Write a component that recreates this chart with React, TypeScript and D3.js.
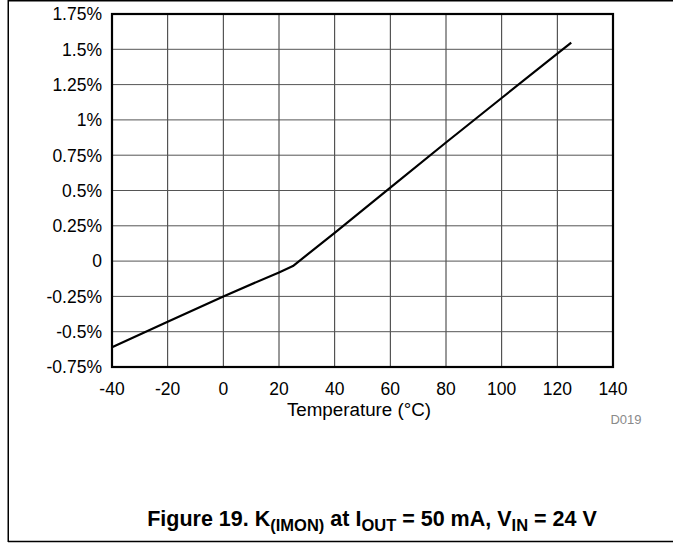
import React from "react";
import * as d3 from "d3";

// temperature (°C) vs K(IMON) error (%)
const temps = [-40, -20, 0, 20, 25, 40, 60, 80, 100, 120, 125];
const kImon = [-0.61, -0.43, -0.25, -0.08, -0.035, 0.2, 0.52, 0.84, 1.155, 1.47, 1.547];
const xTicks = [-40, -20, 0, 20, 40, 60, 80, 100, 120, 140];
const yTicks = [-0.75, -0.5, -0.25, 0, 0.25, 0.5, 0.75, 1, 1.25, 1.5, 1.75];

const W = 673;
const H = 543;
const plot = { left: 112, top: 14, right: 613, bottom: 367 };

const fmtY = (v: number) => (v === 0 ? "0" : `${v}%`);

const App: React.FC = () => {
  const x = d3.scaleLinear().domain([-40, 140]).range([plot.left, plot.right]);
  const y = d3.scaleLinear().domain([-0.75, 1.75]).range([plot.bottom, plot.top]);

  const line = d3
    .line<number>()
    .x((_, i) => x(temps[i]))
    .y((d) => y(d));

  const font = "Arial, 'Liberation Sans', Helvetica, sans-serif";

  return (
    <svg
      width={W}
      height={H}
      style={{ position: "fixed", left: 0, top: 0, background: "#fff" }}
      fontFamily={font}
    >
      {/* page frame */}
      <line x1={8} y1={0.75} x2={W} y2={0.75} stroke="#000" strokeWidth={1.5} />
      <line x1={8.25} y1={0} x2={8.25} y2={542} stroke="#000" strokeWidth={1.5} />
      <line x1={8} y1={541.5} x2={W} y2={541.5} stroke="#000" strokeWidth={1.5} />

      {/* grid */}
      {xTicks.slice(1, -1).map((t) => (
        <line key={"gx" + t} x1={x(t)} x2={x(t)} y1={plot.top} y2={plot.bottom} stroke="#333" strokeWidth={1} />
      ))}
      {yTicks.slice(1, -1).map((t) => (
        <line key={"gy" + t} x1={plot.left} x2={plot.right} y1={y(t)} y2={y(t)} stroke="#555" strokeWidth={1} />
      ))}

      {/* data */}
      <path d={line(kImon)!} fill="none" stroke="#000" strokeWidth={2.2} strokeLinejoin="round" />

      {/* plot border */}
      <rect
        x={plot.left}
        y={plot.top}
        width={plot.right - plot.left}
        height={plot.bottom - plot.top}
        fill="none"
        stroke="#000"
        strokeWidth={2.2}
      />

      {/* y tick labels */}
      {yTicks.map((t) => (
        <text key={"ty" + t} x={102} y={y(t) + 6.3} textAnchor="end" fontSize={17.5} fill="#000">
          {fmtY(t)}
        </text>
      ))}

      {/* x tick labels */}
      {xTicks.map((t) => (
        <text key={"tx" + t} x={x(t)} y={394.5} textAnchor="middle" fontSize={17.5} fill="#000">
          {t}
        </text>
      ))}

      <text x={359} y={415.5} textAnchor="middle" fontSize={18.8} fill="#000">
        Temperature (°C)
      </text>

      <text x={626} y={424} textAnchor="middle" fontSize={13} fill="#8a8a8a">
        D019
      </text>

      {/* caption */}
      <text x={372} y={526} textAnchor="middle" fontSize={21.5} fontWeight="bold" fill="#000">
        Figure 19. K
        <tspan fontSize={16.5} dy={5}>(IMON)</tspan>
        <tspan dy={-5}> at I</tspan>
        <tspan fontSize={16.5} dy={5}>OUT</tspan>
        <tspan dy={-5}> = 50 mA, V</tspan>
        <tspan fontSize={16.5} dy={5}>IN</tspan>
        <tspan dy={-5}> = 24 V</tspan>
      </text>
    </svg>
  );
};

export default App;
